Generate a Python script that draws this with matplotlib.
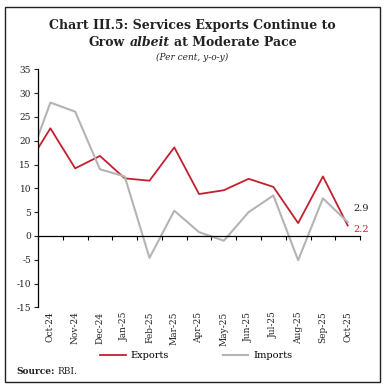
import matplotlib.pyplot as plt
import matplotlib.patches as patches
import numpy as np

months = ['Oct-24', 'Nov-24', 'Dec-24', 'Jan-25', 'Feb-25', 'Mar-25', 'Apr-25',
          'May-25', 'Jun-25', 'Jul-25', 'Aug-25', 'Sep-25', 'Oct-25']
# first value is the previous month, drawn on the y-axis edge
exports = [18.4, 22.6, 14.2, 16.8, 12.1, 11.6, 18.6, 8.8, 9.6, 12.0, 10.3, 2.7, 12.5, 2.2]
imports = [20.9, 28.0, 26.1, 14.0, 12.5, -4.6, 5.3, 0.8, -1.0, 5.0, 8.5, -5.1, 7.9, 2.9]
yticks = list(range(-15, 40, 5))

red = '#C3202F'
grey = '#B4B4B4'
plt.rcParams['font.family'] = 'DejaVu Serif'
plt.rcParams['axes.unicode_minus'] = False

fig = plt.figure(figsize=(3.85, 3.87), dpi=100)
ax = fig.add_axes([0.0987, 0.2057, 0.8366, 0.6153])

x = np.concatenate([[-0.5], np.arange(len(months))])
ax.plot(x, exports, color=red, lw=1.3, label='Exports')
ax.plot(x, imports, color=grey, lw=1.5, label='Imports')

ax.set_xlim(-0.5, len(months) - 0.5)
ax.set_ylim(-15, 35)
ax.set_yticks(yticks)
ax.tick_params(axis='y', labelsize=6.5, length=3, width=0.8, pad=2, colors='#222222')

for s in ['top', 'right']:
    ax.spines[s].set_visible(False)
ax.spines['left'].set_linewidth(0.9)
ax.spines['bottom'].set_position(('data', 0))
ax.spines['bottom'].set_linewidth(0.9)
ax.set_xticks(np.arange(-0.5, len(months)), minor=True)
ax.set_xticks([])
ax.tick_params(axis='x', which='minor', length=3, width=0.8, direction='out')

sec = ax.secondary_xaxis('bottom')
sec.set_xticks(np.arange(len(months)))
sec.set_xticklabels(months, rotation=90, fontsize=6.5, color='#222222')
sec.tick_params(length=0, pad=3)
sec.spines['bottom'].set_visible(False)

ax.annotate('2.9', (x[-1], imports[-1]), xytext=(4, 10), textcoords='offset points',
            fontsize=7, color='#222222', va='center', ha='left')
ax.annotate('2.2', (x[-1], exports[-1]), xytext=(4, -3), textcoords='offset points',
            fontsize=7, color=red, va='center', ha='left')

fig.legend(loc='center', bbox_to_anchor=(0.51, 1 - 356 / 387), ncol=2, frameon=False,
           fontsize=7, handlelength=2.6, handletextpad=0.5, columnspacing=5.6)

# title
fig.text(0.5, 1 - 25 / 387, 'Chart III.5: Services Exports Continue to', ha='center',
         va='center', fontsize=9, fontweight='bold', color='#222222')
fig.canvas.draw()
r = fig.canvas.get_renderer()
parts = [('Grow', 'normal'), ('albeit', 'italic'), ('at Moderate Pace', 'normal')]
gaps = [5, 3.5]  # px between words
texts = []
for s, st in parts:
    t = fig.text(0, 1 - 43 / 387, s, ha='left', va='center', fontsize=9,
                 fontweight='bold', style=st, color='#222222')
    texts.append(t)
widths = [t.get_window_extent(r).width for t in texts]
xpos = (fig.bbox.width - sum(widths) - sum(gaps)) / 2
for t, w, g in zip(texts, widths, gaps + [0]):
    t.set_x(xpos / fig.bbox.width)
    xpos += w + g
fig.text(0.5, 1 - 57 / 387, '(Per cent, y-o-y)', ha='center', va='center',
         fontsize=6.5, style='italic', color='#222222')

src = fig.text(16 / 385, 1 - 371 / 387, 'Source:', fontsize=6.5, fontweight='bold',
               va='center', color='#222222')
sw = src.get_window_extent(r).width
fig.text((16 + sw + 3) / 385, 1 - 371 / 387, 'RBI.', fontsize=6.5, va='center',
         color='#222222')

fig.patches.append(patches.Rectangle((5 / 385, 1 - 382 / 387), 375 / 385, 375 / 387,
                                     transform=fig.transFigure, fill=False,
                                     edgecolor='#222222', lw=1))

fig.savefig('out.png', dpi=100)
